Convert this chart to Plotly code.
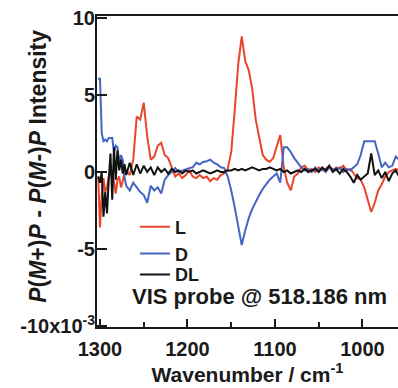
import plotly.graph_objects as go

wavenumber = [1302, 1300, 1298, 1296, 1294, 1292, 1290, 1288, 1286, 1284, 1282, 1280, 1278, 1276, 1274, 1272, 1270,
              1266, 1262, 1258, 1254, 1250, 1246, 1242, 1238, 1234, 1230, 1226, 1222, 1218, 1214, 1210, 1206,
              1202, 1198, 1194, 1190, 1186, 1182, 1178, 1174, 1170, 1166, 1162, 1158, 1154, 1150, 1146, 1142,
              1138, 1134, 1130, 1126, 1122, 1118, 1114, 1110, 1106, 1102, 1098, 1094, 1090, 1086, 1082, 1078,
              1074, 1070, 1066, 1062, 1058, 1054, 1050, 1046, 1042, 1038, 1034, 1030, 1026, 1022, 1018, 1014,
              1010, 1006, 1002, 998, 994, 990, 986, 982, 978, 974, 970, 966, 962, 958]

L_vals = [-0.3, -3.6, -1.5, -0.4, -1.3, -1.0, -0.3, -0.2, 0.1, -0.6, -1.4, -0.5, -0.3, -1.0, -0.6, 0.0, 0.1,
          -0.2, 0.8, 3.6, 3.4, 4.5, 2.3, 0.8, 1.0, 1.7, 1.9, 1.1, 0.9, 0.3, -0.3, -0.1, -0.4,
          -0.2, 0.1, -0.3, -0.4, -0.2, -0.4, -0.3, -0.6, -0.4, -0.5, -0.2, -0.1, 0.2, 1.3, 4.0, 7.0,
          8.8, 7.2, 6.6, 5.4, 3.4, 2.2, 1.1, 0.8, 0.65, 0.9, 1.6, 2.4, 0.3, -0.7, -1.2, -0.3,
          -0.1, 0.3, 0.4, 0.1, 0.2, 0.0, 0.3, 0.1, 0.2, 0.4, 0.1, 0.3, 0.2, 0.4, 0.1, 0.2,
          -0.1, -0.4, -0.5, -1.0, -1.8, -2.6, -2.0, -1.2, -0.8, -0.3, 0.0, 0.1, 0.2, 0.1]

D_vals = [6.0, 6.1, 2.5, 2.0, 2.1, 2.0, 2.2, 2.2, 2.2, 1.3, 1.7, 1.6, 0.6, 1.1, 0.8, -0.3, -0.9,
          -1.2, -0.7, -1.0, -1.3, -1.5, -2.0, -0.9, -1.2, -1.0, -1.4, -0.5, -0.2, 0.0, 0.25, 0.0, 0.1,
          0.2, 0.25, 0.3, 0.6, 0.5, 0.65, 0.7, 0.8, 0.6, 0.5, 0.3, 0.25, -0.3, -1.2, -2.3, -3.6,
          -4.75, -3.8, -3.0, -2.4, -1.9, -1.5, -1.1, -0.8, -0.5, -0.3, -0.1, -0.7, 1.6, 1.6, 1.3, 0.9,
          0.6, 0.3, 0.1, 0.2, 0.0, 0.3, 0.1, 0.2, 0.0, 0.3, 0.2, 0.1, 0.3, 0.0, 0.2, 0.1,
          0.3, 0.5, 1.1, 2.0, 2.0, 2.0, 2.0, 1.2, 0.3, 0.6, 0.3, 0.4, 1.0, 0.8]

DL_vals = [-0.3, -0.7, 0.0, -2.9, -1.3, -2.7, -0.5, 1.2, -1.8, 1.6, -0.5, 1.4, 0.1, 0.8, -0.1, 0.5, -0.2,
           0.6, -0.2, 0.5, -0.1, 0.4, 0.0, 0.3, -0.2, 0.3, 0.0, 0.2, -0.1, 0.2, 0.0, 0.1, -0.1,
           0.1, 0.0, 0.1, -0.1, 0.0, 0.1, 0.0, -0.1, 0.0, 0.1, 0.0, 0.0, 0.1, 0.1, 0.2, 0.1,
           0.2, 0.1, 0.2, 0.3, 0.2, 0.1, 0.2, 0.2, 0.3, 0.2, 0.1, 0.2, 0.0, 0.1, -0.1, 0.0,
           0.1, 0.0, 0.2, 0.0, 0.1, 0.2, 0.0, 0.3, 0.1, 0.4, 0.0, 0.2, -0.1, 0.2, 0.0, -0.3,
           -0.7, -0.2, -0.5, -0.3, -0.1, 1.2, -0.2, 0.1, -0.4, 0.0, -0.6, -0.1, 0.1, -0.3]

y_tickvals = [10, 5, 0, -5, -10]
y_ticktext = ["10", "5", "0", "-5", "-10x10<sup>-3</sup>"]
x_tickvals = [1300, 1200, 1100, 1000]
x_ticktext = ["1300", "1200", "1100", "1000"]

FONT = "Liberation Sans, Arial, sans-serif"

fig = go.Figure()
series = [("L", L_vals, "#e8452c", "legend"),
          ("D", D_vals, "#4466c2", "legend2"),
          ("DL", DL_vals, "#111111", "legend3")]
for name, vals, color, leg in series:
    fig.add_trace(go.Scatter(x=wavenumber, y=vals, mode="lines", name=name, legend=leg,
                             line=dict(color=color, width=2)))

def legend_box(ypos):
    return dict(x=0.126, y=ypos, xanchor="left", yanchor="middle",
                font=dict(size=18, family=FONT, weight="bold"),
                bgcolor="rgba(0,0,0,0)", itemwidth=30)

fig.update_layout(
    width=398, height=388,
    margin=dict(l=97, r=0, t=16, b=61),
    paper_bgcolor="white", plot_bgcolor="white",
    font=dict(family=FONT, size=20, color="#1a1a1a", weight="bold"),
    showlegend=True,
    legend=legend_box(0.3215),
    legend2=legend_box(0.235),
    legend3=legend_box(0.168),
    xaxis=dict(range=[1303.4, 959.4], showline=True, linecolor="#1a1a1a", linewidth=2, mirror=True,
               ticks="inside", ticklen=8, tickwidth=2, tickcolor="#1a1a1a",
               tickvals=x_tickvals, ticktext=x_ticktext, ticklabelstandoff=3,
               minor=dict(ticks="inside", ticklen=5, tickwidth=2, dtick=50, tickcolor="#1a1a1a", showgrid=False),
               showgrid=False, zeroline=False,
               title=dict(text="Wavenumber / cm<sup>-1</sup>", standoff=8,
                          font=dict(size=21, family=FONT, weight="bold"))),
    yaxis=dict(range=[-10.07, 10.13], showline=True, linecolor="#1a1a1a", linewidth=2, mirror=False,
               ticks="inside", ticklen=10, tickwidth=2, tickcolor="#1a1a1a",
               tickvals=y_tickvals, ticktext=y_ticktext, ticklabelstandoff=-4,
               showgrid=False, zeroline=False),
    annotations=[
        dict(text="<i>P</i>(<i>M</i>+)<i>P</i> - <i>P</i>(<i>M</i>-)<i>P</i> Intensity",
             xref="paper", yref="paper", x=0, y=0.515, xshift=-59, xanchor="center", yanchor="middle",
             textangle=-90, showarrow=False, font=dict(size=23, family=FONT, weight="bold")),
        dict(text="VIS probe @ 518.186 nm", xref="paper", yref="paper", x=0.11, y=0.0965,
             xanchor="left", yanchor="middle", showarrow=False,
             font=dict(size=22, family=FONT, weight="bold")),
    ],
)

fig.write_html("out.html", config={"displayModeBar": False},
               post_script="document.body.style.margin='0';")
